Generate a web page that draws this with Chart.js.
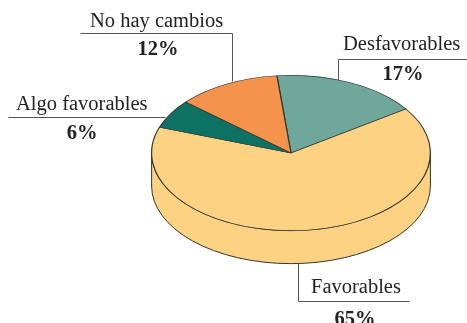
<!DOCTYPE html>
<html>
<head>
<meta charset="utf-8">
<script src="https://cdn.jsdelivr.net/npm/chart.js@4"></script>
<style>
  html, body { margin: 0; padding: 0; background: #fff; }
  #wrap { width: 467px; height: 323px; position: relative; }
</style>
</head>
<body>
<div id="wrap"><canvas id="pie" width="467" height="323"></canvas></div>
<script>
// slices, clockwise from just left of the top
const categories = ['Desfavorables', 'Favorables', 'Algo favorables', 'No hay cambios'];
const shares = [17, 65, 6, 12];
const sliceColors = ['#70a79b', '#fdd283', '#0d7263', '#f5924b'];

// look of the tilted disc
const TILT = 0.557;     // vertical squash of the top face
const DEPTH = 33;       // thickness of the disc, px
const OUTLINE = '#333';

// where each caption sits, same order as categories
const labelSpots = [
  { name: [343, 50], pct: [403, 80], line: [[338, 80], [338, 59], [467, 59]] },
  { name: [311, 293], pct: [355, 325], line: [[298, 263], [298, 301], [409, 301]] },
  { name: [16, 110], pct: [82, 139], line: [[8, 117], [165, 117]] },
  { name: [90, 27], pct: [158, 55], line: [[80, 33], [232, 33], [232, 81]] }
];

/* side wall first, then squash the context so the pie draws as an ellipse */
const tiltPlugin = {
  id: 'tilt',
  beforeDatasetsDraw(chart) {
    const ctx = chart.ctx;
    const arcs = chart.getDatasetMeta(0).data;
    const { x: cx, y: cy, outerRadius: r } = arcs[0];
    const ry = r * TILT;
    ctx.save();
    arcs.forEach(arc => {
      [-2 * Math.PI, 0, 2 * Math.PI].forEach(k => {
        const a1 = Math.max(arc.startAngle + k, 0);
        const a2 = Math.min(arc.endAngle + k, Math.PI);
        if (a2 <= a1) return;
        ctx.beginPath();
        ctx.ellipse(cx, cy, r, ry, 0, a1, a2);
        ctx.ellipse(cx, cy + DEPTH, r, ry, 0, a2, a1, true);
        ctx.closePath();
        ctx.fillStyle = arc.options.backgroundColor;
        ctx.fill();
        ctx.strokeStyle = OUTLINE;
        ctx.lineWidth = 1;
        ctx.stroke();
      });
    });
    ctx.translate(0, cy);
    ctx.scale(1, TILT);
    ctx.translate(0, -cy);
  },
  afterDatasetsDraw(chart) {
    chart.ctx.restore();
  }
};

/* captions with their leader lines */
const captionPlugin = {
  id: 'captions',
  afterDraw(chart) {
    const ctx = chart.ctx;
    ctx.save();
    labelSpots.forEach((spot, i) => {
      ctx.beginPath();
      spot.line.forEach(([x, y], j) => j ? ctx.lineTo(x + 0.5, y + 0.5) : ctx.moveTo(x + 0.5, y + 0.5));
      ctx.strokeStyle = '#555';
      ctx.lineWidth = 1;
      ctx.stroke();

      ctx.fillStyle = '#222';
      ctx.textBaseline = 'alphabetic';
      ctx.font = '20.5px "Liberation Serif", "DejaVu Serif", serif';
      ctx.textAlign = 'left';
      ctx.fillText(categories[i], spot.name[0], spot.name[1]);
      ctx.font = 'bold 20.5px "Liberation Serif", "DejaVu Serif", serif';
      ctx.textAlign = 'center';
      ctx.fillText(shares[i] + '%', spot.pct[0], spot.pct[1]);
    });
    ctx.restore();
  }
};

new Chart(document.getElementById('pie'), {
  type: 'pie',
  data: {
    labels: categories,
    datasets: [{
      data: shares,
      backgroundColor: sliceColors,
      borderColor: OUTLINE,
      borderWidth: 1.2
    }]
  },
  options: {
    responsive: false,
    animation: false,
    rotation: -5.8,
    layout: { padding: { left: 151, right: 36, top: 13, bottom: 30 } },
    plugins: {
      legend: { display: false },
      tooltip: { enabled: false }
    }
  },
  plugins: [tiltPlugin, captionPlugin]
});
</script>
</body>
</html>
